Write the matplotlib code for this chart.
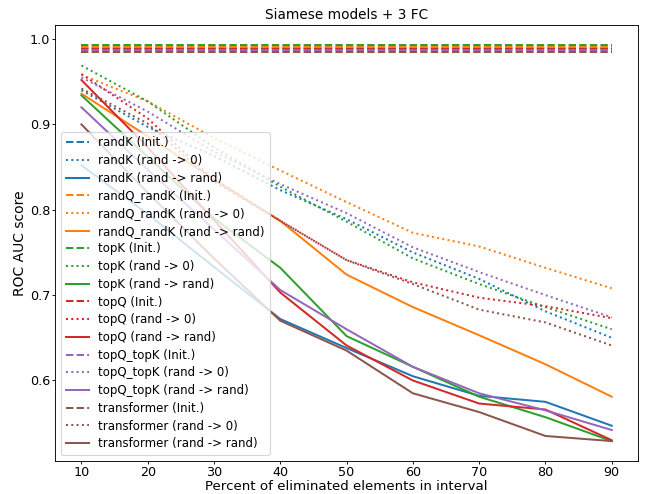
import numpy as np
import matplotlib
matplotlib.use("Agg")
import matplotlib.pyplot as plt

percent = [10, 20, 30, 40, 50, 60, 70, 80, 90]
models = ["randK", "randQ_randK", "topK", "topQ", "topQ_topK", "transformer"]
colors = ["tab:blue", "tab:orange", "tab:green", "tab:red", "tab:purple", "tab:brown"]

# ROC AUC of the untouched models (constant over the interval)
init_auc = {
    "randK": 0.989,
    "randQ_randK": 0.991,
    "topK": 0.993,
    "topQ": 0.988,
    "topQ_topK": 0.987,
    "transformer": 0.985,
}

# rand -> 0
zero_auc = {
    "randK":       [0.940, 0.897, 0.863, 0.823, 0.789, 0.750, 0.719, 0.681, 0.650],
    "randQ_randK": [0.958, 0.927, 0.884, 0.846, 0.809, 0.773, 0.757, 0.732, 0.708],
    "topK":        [0.969, 0.927, 0.873, 0.827, 0.786, 0.743, 0.713, 0.686, 0.660],
    "topQ":        [0.959, 0.907, 0.835, 0.787, 0.741, 0.715, 0.697, 0.687, 0.673],
    "topQ_topK":   [0.955, 0.915, 0.868, 0.830, 0.796, 0.756, 0.727, 0.700, 0.674],
    "transformer": [0.942, 0.901, 0.833, 0.787, 0.741, 0.713, 0.683, 0.668, 0.641],
}

# rand -> rand
rand_auc = {
    "randK":       [0.852, 0.795, 0.733, 0.672, 0.638, 0.605, 0.582, 0.575, 0.547],
    "randQ_randK": [0.936, 0.886, 0.836, 0.787, 0.724, 0.686, 0.653, 0.619, 0.581],
    "topK":        [0.934, 0.862, 0.790, 0.732, 0.652, 0.616, 0.581, 0.557, 0.529],
    "topQ":        [0.952, 0.873, 0.788, 0.703, 0.641, 0.600, 0.573, 0.566, 0.530],
    "topQ_topK":   [0.920, 0.847, 0.777, 0.706, 0.660, 0.616, 0.585, 0.565, 0.542],
    "transformer": [0.900, 0.820, 0.743, 0.670, 0.635, 0.585, 0.563, 0.535, 0.529],
}

plt.rcParams["lines.linewidth"] = 1.8

fig, ax = plt.subplots(figsize=(646 / 80, 494 / 80), dpi=80)

for name, c in zip(models, colors):
    ax.plot(percent, [init_auc[name]] * len(percent), "--", color=c,
            label=name + " (Init.)")
    ax.plot(percent, zero_auc[name], ":", color=c, label=name + " (rand -> 0)")
    ax.plot(percent, rand_auc[name], "-", color=c, label=name + " (rand -> rand)")

ax.set_title("Siamese models + 3 FC", fontsize=12.3)
ax.set_xlabel("Percent of eliminated elements in interval", fontsize=12, labelpad=1.5)
ax.set_ylabel("ROC AUC score", fontsize=12.5, labelpad=3)
ax.tick_params(labelsize=11.5, length=3, pad=1.2)
ax.legend(loc="lower left", fontsize=10.6, labelspacing=0.40)

fig.subplots_adjust(left=0.085, right=0.988, top=0.949, bottom=0.067)
plt.savefig("out.png", dpi=80)
